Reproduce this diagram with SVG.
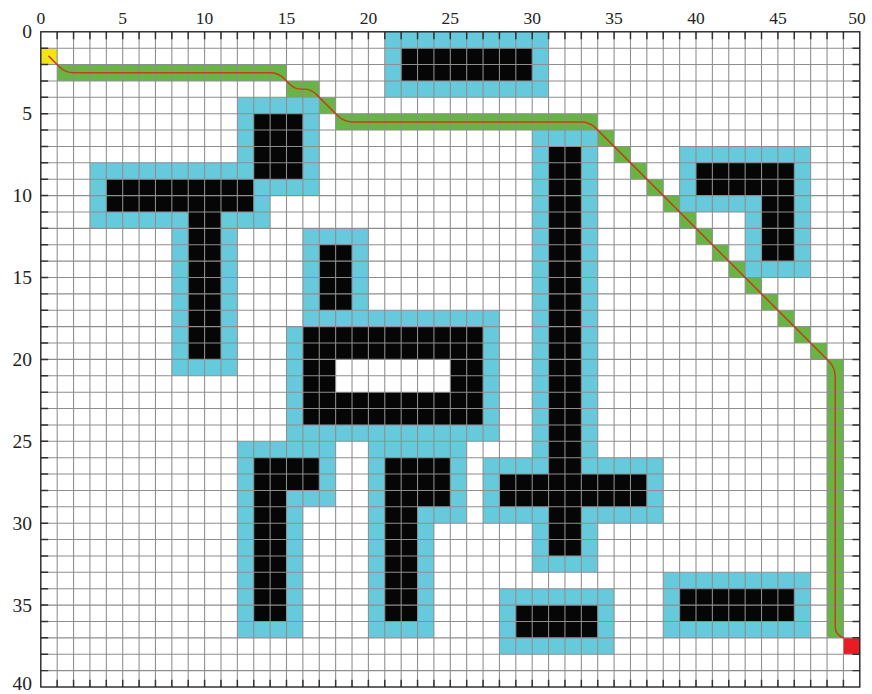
<svg xmlns="http://www.w3.org/2000/svg" width="872" height="694" viewBox="0 0 872 694">
<style>
.buf{fill:#67c9dc}
.obs{fill:#060606}
.hole{fill:#ffffff}
.green{fill:#68b545}
.lbl{font-family:"Liberation Serif","Times New Roman",serif;fill:#222}
.xl{font-size:17.5px}
.yl{font-size:19.5px}
.grid{fill:none;stroke:#8e8e8e;stroke-width:0.065}
.tick{fill:none;stroke:#333;stroke-width:0.09}
.route{fill:none;stroke:#c1401a;stroke-width:0.09;stroke-linecap:round;stroke-linejoin:round}
</style>
<rect x="0" y="0" width="872" height="694" fill="#ffffff"/>
<g transform="translate(40.8,31.8) scale(16.38)">
  <g id="path-cells">
    <rect class="green" x="1" y="2" width="14" height="1"/>
    <rect class="green" x="15" y="3" width="2" height="1"/>
    <rect class="green" x="17" y="4" width="1" height="1"/>
    <rect class="green" x="18" y="5" width="16" height="1"/>
    <rect class="green" x="34" y="6" width="1" height="1"/>
    <rect class="green" x="35" y="7" width="1" height="1"/>
    <rect class="green" x="36" y="8" width="1" height="1"/>
    <rect class="green" x="37" y="9" width="1" height="1"/>
    <rect class="green" x="38" y="10" width="1" height="1"/>
    <rect class="green" x="39" y="11" width="1" height="1"/>
    <rect class="green" x="40" y="12" width="1" height="1"/>
    <rect class="green" x="41" y="13" width="1" height="1"/>
    <rect class="green" x="42" y="14" width="1" height="1"/>
    <rect class="green" x="43" y="15" width="1" height="1"/>
    <rect class="green" x="44" y="16" width="1" height="1"/>
    <rect class="green" x="45" y="17" width="1" height="1"/>
    <rect class="green" x="46" y="18" width="1" height="1"/>
    <rect class="green" x="47" y="19" width="1" height="1"/>
    <rect class="green" x="48" y="20" width="1" height="17"/>
  </g>
  <g id="start"><rect x="0" y="1" width="1" height="1" fill="#f4e21a"/></g>
  <g id="goal"><rect x="49" y="37" width="1" height="1" fill="#e81c22"/></g>
  <g id="obstacle-top">
    <rect class="buf" x="21" y="0" width="10" height="4"/>
    <rect class="obs" x="22" y="1" width="8" height="2"/>
  </g>
  <g id="obstacle-square">
    <rect class="buf" x="12" y="4" width="5" height="6"/>
    <rect class="obs" x="13" y="5" width="3" height="4"/>
  </g>
  <g id="obstacle-t">
    <polygon class="buf" points="3,8 13,8 13,9 14,9 14,12 12,12 12,21 8,21 8,12 3,12"/>
    <rect class="obs" x="4" y="9" width="9" height="2"/>
    <rect class="obs" x="9" y="11" width="2" height="9"/>
  </g>
  <g id="obstacle-small">
    <rect class="buf" x="16" y="12" width="4" height="6"/>
    <rect class="obs" x="17" y="13" width="2" height="4"/>
  </g>
  <g id="obstacle-frame">
    <polygon class="buf" points="16,17 28,17 28,25 15,25 15,18 16,18"/>
    <rect class="obs" x="16" y="18" width="11" height="6"/>
    <rect class="hole" x="18" y="20" width="7" height="2"/>
  </g>
  <g id="obstacle-gamma-left">
    <polygon class="buf" points="12,25 18,25 18,29 16,29 16,37 12,37"/>
    <polygon class="obs" points="13,26 17,26 17,28 15,28 15,36 13,36"/>
  </g>
  <g id="obstacle-gamma-right">
    <polygon class="buf" points="20,25 26,25 26,30 24,30 24,37 20,37"/>
    <polygon class="obs" points="21,26 25,26 25,29 23,29 23,36 21,36"/>
  </g>
  <g id="obstacle-cross">
    <polygon class="buf" points="30,6 34,6 34,26 38,26 38,30 34,30 34,33 30,33 30,30 27,30 27,26 30,26"/>
    <rect class="obs" x="31" y="7" width="2" height="25"/>
    <rect class="obs" x="28" y="27" width="9" height="2"/>
  </g>
  <g id="obstacle-hook">
    <polygon class="buf" points="39,7 47,7 47,15 43,15 43,11 39,11"/>
    <polygon class="obs" points="40,8 46,8 46,14 44,14 44,10 40,10"/>
  </g>
  <g id="obstacle-bottom-mid">
    <rect class="buf" x="28" y="34" width="7" height="4"/>
    <rect class="obs" x="29" y="35" width="5" height="2"/>
  </g>
  <g id="obstacle-bottom-right">
    <rect class="buf" x="38" y="33" width="9" height="4"/>
    <rect class="obs" x="39" y="34" width="7" height="2"/>
  </g>
  <path class="grid" d="M1,0V40M2,0V40M3,0V40M4,0V40M5,0V40M6,0V40M7,0V40M8,0V40M9,0V40M10,0V40M11,0V40M12,0V40M13,0V40M14,0V40M15,0V40M16,0V40M17,0V40M18,0V40M19,0V40M20,0V40M21,0V40M22,0V40M23,0V40M24,0V40M25,0V40M26,0V40M27,0V40M28,0V40M29,0V40M30,0V40M31,0V40M32,0V40M33,0V40M34,0V40M35,0V40M36,0V40M37,0V40M38,0V40M39,0V40M40,0V40M41,0V40M42,0V40M43,0V40M44,0V40M45,0V40M46,0V40M47,0V40M48,0V40M49,0V40M0,1H50M0,2H50M0,3H50M0,4H50M0,5H50M0,6H50M0,7H50M0,8H50M0,9H50M0,10H50M0,11H50M0,12H50M0,13H50M0,14H50M0,15H50M0,16H50M0,17H50M0,18H50M0,19H50M0,20H50M0,21H50M0,22H50M0,23H50M0,24H50M0,25H50M0,26H50M0,27H50M0,28H50M0,29H50M0,30H50M0,31H50M0,32H50M0,33H50M0,34H50M0,35H50M0,36H50M0,37H50M0,38H50M0,39H50"/>
  <path class="tick" d="M1,0v0.45M2,0v0.45M3,0v0.45M4,0v0.45M5,0v0.45M6,0v0.45M7,0v0.45M8,0v0.45M9,0v0.45M10,0v0.45M11,0v0.45M12,0v0.45M13,0v0.45M14,0v0.45M15,0v0.45M16,0v0.45M17,0v0.45M18,0v0.45M19,0v0.45M20,0v0.45M21,0v0.45M22,0v0.45M23,0v0.45M24,0v0.45M25,0v0.45M26,0v0.45M27,0v0.45M28,0v0.45M29,0v0.45M30,0v0.45M31,0v0.45M32,0v0.45M33,0v0.45M34,0v0.45M35,0v0.45M36,0v0.45M37,0v0.45M38,0v0.45M39,0v0.45M40,0v0.45M41,0v0.45M42,0v0.45M43,0v0.45M44,0v0.45M45,0v0.45M46,0v0.45M47,0v0.45M48,0v0.45M49,0v0.45M1,40v-0.45M2,40v-0.45M3,40v-0.45M4,40v-0.45M5,40v-0.45M6,40v-0.45M7,40v-0.45M8,40v-0.45M9,40v-0.45M10,40v-0.45M11,40v-0.45M12,40v-0.45M13,40v-0.45M14,40v-0.45M15,40v-0.45M16,40v-0.45M17,40v-0.45M18,40v-0.45M19,40v-0.45M20,40v-0.45M21,40v-0.45M22,40v-0.45M23,40v-0.45M24,40v-0.45M25,40v-0.45M26,40v-0.45M27,40v-0.45M28,40v-0.45M29,40v-0.45M30,40v-0.45M31,40v-0.45M32,40v-0.45M33,40v-0.45M34,40v-0.45M35,40v-0.45M36,40v-0.45M37,40v-0.45M38,40v-0.45M39,40v-0.45M40,40v-0.45M41,40v-0.45M42,40v-0.45M43,40v-0.45M44,40v-0.45M45,40v-0.45M46,40v-0.45M47,40v-0.45M48,40v-0.45M49,40v-0.45M0,1h0.45M0,2h0.45M0,3h0.45M0,4h0.45M0,5h0.45M0,6h0.45M0,7h0.45M0,8h0.45M0,9h0.45M0,10h0.45M0,11h0.45M0,12h0.45M0,13h0.45M0,14h0.45M0,15h0.45M0,16h0.45M0,17h0.45M0,18h0.45M0,19h0.45M0,20h0.45M0,21h0.45M0,22h0.45M0,23h0.45M0,24h0.45M0,25h0.45M0,26h0.45M0,27h0.45M0,28h0.45M0,29h0.45M0,30h0.45M0,31h0.45M0,32h0.45M0,33h0.45M0,34h0.45M0,35h0.45M0,36h0.45M0,37h0.45M0,38h0.45M0,39h0.45M50,1h-0.45M50,2h-0.45M50,3h-0.45M50,4h-0.45M50,5h-0.45M50,6h-0.45M50,7h-0.45M50,8h-0.45M50,9h-0.45M50,10h-0.45M50,11h-0.45M50,12h-0.45M50,13h-0.45M50,14h-0.45M50,15h-0.45M50,16h-0.45M50,17h-0.45M50,18h-0.45M50,19h-0.45M50,20h-0.45M50,21h-0.45M50,22h-0.45M50,23h-0.45M50,24h-0.45M50,25h-0.45M50,26h-0.45M50,27h-0.45M50,28h-0.45M50,29h-0.45M50,30h-0.45M50,31h-0.45M50,32h-0.45M50,33h-0.45M50,34h-0.45M50,35h-0.45M50,36h-0.45M50,37h-0.45M50,38h-0.45M50,39h-0.45"/>
  <rect x="0" y="0" width="50" height="40" fill="none" stroke="#222" stroke-width="0.085"/>
  <g id="connectors">
    <path class="route" d="M0.5,1.5 L1.1,2.1 Q1.5,2.5 2.0,2.5 L14.0,2.5 Q14.5,2.5 14.85,2.85 L15.15,3.15 Q15.5,3.5 15.9,3.5 L16.1,3.5 Q16.5,3.5 16.85,3.85 L18.1,5.1 Q18.5,5.5 19.0,5.5 L33.0,5.5 Q33.5,5.5 33.85,5.85 L48.1,20.1 Q48.5,20.5 48.5,21.1 L48.5,36.3 Q48.5,36.8 49,37"/>
  </g>
</g>
<g id="x-labels" class="lbl xl" text-anchor="middle">
  <text x="40.8" y="23.5">0</text>
  <text x="122.7" y="23.5">5</text>
  <text x="204.6" y="23.5">10</text>
  <text x="286.5" y="23.5">15</text>
  <text x="368.4" y="23.5">20</text>
  <text x="450.3" y="23.5">25</text>
  <text x="532.2" y="23.5">30</text>
  <text x="614.1" y="23.5">35</text>
  <text x="696" y="23.5">40</text>
  <text x="777.9" y="23.5">45</text>
  <text x="857" y="23.5">50</text>
</g>
<g id="y-labels" class="lbl yl" text-anchor="end">
  <text x="32" y="38.2">0</text>
  <text x="32" y="120.1">5</text>
  <text x="32" y="202">10</text>
  <text x="32" y="283.9">15</text>
  <text x="32" y="365.8">20</text>
  <text x="32" y="447.7">25</text>
  <text x="32" y="529.6">30</text>
  <text x="32" y="611.5">35</text>
  <text x="32" y="689.5">40</text>
</g>
</svg>
